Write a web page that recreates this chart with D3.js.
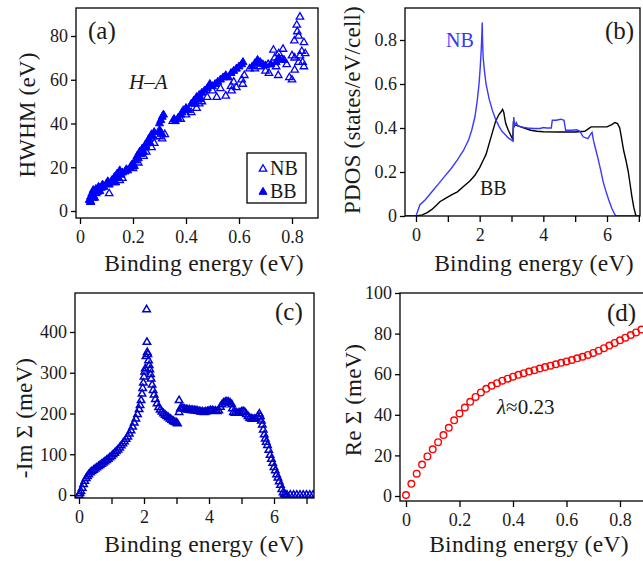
<!DOCTYPE html>
<html><head><meta charset="utf-8">
<script src="https://cdn.jsdelivr.net/npm/d3@7"></script>
<style>
html,body{margin:0;padding:0;background:#fff;}
svg{display:block;font-family:"Liberation Serif","Times New Roman",serif;}
</style></head><body>
<svg id="c" width="643" height="561"></svg>
<script>
// ---------- DATA ----------
// (a) HWHM vs binding energy, H–A direction
const hwhmBB = [[0.035,5],[0.04,6.5],[0.04,4.5],[0.045,8],[0.05,7],[0.05,9.5],[0.055,6],[0.06,10],[0.065,8.5],[0.07,11],[0.075,9],[0.08,10.5],[0.085,12],[0.09,11],[0.1,12.5],[0.105,13.5],[0.11,12],[0.12,14],[0.13,15.5],[0.135,13],[0.14,17],[0.145,15],[0.15,18.5],[0.155,16.5],[0.16,17.5],[0.17,18],[0.175,19],[0.18,18.5],[0.19,20],[0.195,21],[0.2,21.5],[0.205,20.5],[0.21,23],[0.215,25],[0.22,24],[0.225,27],[0.23,26],[0.235,28.5],[0.24,27],[0.245,30],[0.25,29],[0.255,31.5],[0.26,33],[0.265,31],[0.27,35],[0.275,34],[0.28,36],[0.3,40],[0.305,41.5],[0.31,43],[0.315,44],[0.3,37],[0.305,36],[0.31,35],[0.355,42],[0.36,41],[0.37,42.5],[0.38,44],[0.385,45],[0.39,46],[0.4,47],[0.41,46],[0.42,49],[0.43,50.5],[0.435,49],[0.44,52],[0.45,53],[0.455,51],[0.46,54],[0.47,55],[0.48,56],[0.49,58],[0.5,57],[0.51,58],[0.52,59],[0.53,60],[0.54,61],[0.55,62],[0.56,61],[0.57,63],[0.58,64],[0.59,65],[0.6,66],[0.61,67],[0.615,68],[0.65,66],[0.66,67.5],[0.67,69],[0.68,68],[0.69,67],[0.7,66.5],[0.72,67],[0.74,68],[0.75,70],[0.77,69]];
const hwhmNB = [[0.04,4],[0.05,6],[0.06,8],[0.07,10],[0.085,11],[0.11,8],[0.12,13],[0.15,14],[0.16,15],[0.2,19.5],[0.22,22],[0.24,25],[0.25,27],[0.27,29],[0.28,31],[0.3,34],[0.31,33],[0.32,35],[0.35,41],[0.38,42],[0.4,44],[0.42,45],[0.44,47],[0.45,49],[0.46,50],[0.48,52],[0.5,55],[0.516,52],[0.53,56],[0.55,52.6],[0.572,55],[0.57,57],[0.58,59],[0.59,56.5],[0.614,58],[0.61,60],[0.62,62],[0.64,65],[0.66,65],[0.68,66],[0.7,64],[0.713,63],[0.71,67],[0.73,73.6],[0.735,70],[0.748,62],[0.74,66],[0.75,72],[0.766,74],[0.765,69],[0.78,67],[0.79,61],[0.8,60],[0.8,71],[0.81,70],[0.81,64.5],[0.809,77.8],[0.818,85],[0.82,82],[0.825,80],[0.83,88.7],[0.837,73],[0.84,68],[0.845,77],[0.85,72],[0.845,66],[0.825,68],[0.83,71]];

// (b) PDOS
const pdosNB = [[-0.4,0],[0,0],[0.05,0.02],[0.12,0.05],[0.3,0.075],[0.5,0.11],[0.7,0.145],[0.9,0.18],[1.1,0.215],[1.3,0.255],[1.5,0.3],[1.65,0.345],[1.75,0.39],[1.85,0.45],[1.92,0.52],[1.98,0.6],[2.02,0.68],[2.05,0.76],[2.07,0.83],[2.08,0.88],[2.09,0.8],[2.11,0.72],[2.15,0.66],[2.2,0.6],[2.3,0.53],[2.4,0.48],[2.5,0.44],[2.6,0.41],[2.7,0.385],[2.8,0.37],[2.9,0.355],[3.0,0.345],[3.05,0.34],[3.07,0.45],[3.1,0.41],[3.15,0.425],[3.2,0.41],[3.3,0.405],[3.5,0.4],[3.7,0.398],[3.9,0.398],[4.0,0.402],[4.1,0.4],[4.25,0.4],[4.28,0.435],[4.4,0.435],[4.55,0.44],[4.65,0.435],[4.7,0.39],[4.9,0.39],[5.05,0.392],[5.15,0.385],[5.25,0.36],[5.4,0.352],[5.5,0.375],[5.53,0.38],[5.58,0.34],[5.65,0.3],[5.72,0.26],[5.8,0.21],[5.88,0.155],[5.95,0.12],[6.05,0.075],[6.15,0.035],[6.25,0.005],[6.3,0],[7.3,0]];
const pdosBB = [[-0.4,0],[0,0],[0.2,0.005],[0.35,0.015],[0.5,0.03],[0.65,0.05],[0.75,0.065],[0.9,0.078],[1.1,0.095],[1.3,0.11],[1.5,0.135],[1.7,0.16],[1.85,0.185],[2.0,0.22],[2.1,0.25],[2.2,0.28],[2.3,0.33],[2.4,0.38],[2.5,0.43],[2.6,0.46],[2.68,0.475],[2.72,0.485],[2.76,0.47],[2.78,0.45],[2.82,0.42],[2.9,0.39],[3.0,0.36],[3.04,0.35],[3.06,0.43],[3.1,0.415],[3.2,0.41],[3.4,0.4],[3.6,0.39],[3.8,0.385],[4.0,0.383],[4.5,0.382],[5.0,0.382],[5.3,0.385],[5.4,0.395],[5.5,0.405],[5.7,0.405],[6.0,0.405],[6.15,0.415],[6.25,0.425],[6.33,0.42],[6.4,0.4],[6.45,0.36],[6.52,0.3],[6.6,0.25],[6.67,0.2],[6.72,0.15],[6.78,0.09],[6.84,0.04],[6.9,0.005],[6.95,0],[7.3,0]];

// (c) -Im Sigma (meV)
const imSigma = [[0,0],[0.03,4],[0.06,9],[0.1,17],[0.14,26],[0.18,34],[0.22,41],[0.26,46],[0.3,50],[0.35,55],[0.4,58],[0.45,61],[0.5,64],[0.55,67],[0.6,70],[0.65,73],[0.7,76],[0.75,79],[0.8,82],[0.85,85],[0.9,88],[0.95,92],[1.0,95],[1.05,99],[1.1,103],[1.15,107],[1.2,111],[1.25,116],[1.3,121],[1.35,126],[1.4,131],[1.45,137],[1.5,143],[1.55,150],[1.6,158],[1.65,167],[1.7,177],[1.75,187],[1.8,198],[1.85,210],[1.88,220],[1.91,232],[1.94,248],[1.96,262],[1.98,275],[2.0,290],[2.02,302],[2.04,310],[2.06,340],[2.08,455],[2.09,375],[2.1,350],[2.12,345],[2.14,330],[2.16,318],[2.18,308],[2.2,296],[2.22,285],[2.25,270],[2.28,257],[2.31,246],[2.35,235],[2.4,224],[2.45,215],[2.5,209],[2.55,204],[2.6,200],[2.65,196],[2.7,193],[2.75,190],[2.8,187],[2.85,184],[2.9,181],[2.95,179],[3.0,177],[3.03,175],[3.08,232],[3.08,203],[3.12,212],[3.16,213],[3.2,212],[3.25,211],[3.3,210],[3.35,209],[3.4,209],[3.45,208],[3.5,208],[3.55,207],[3.6,207],[3.65,206],[3.7,205],[3.75,204],[3.8,204],[3.85,203],[3.9,204],[3.95,205],[4.0,206],[4.05,207],[4.1,207],[4.15,206],[4.2,206],[4.25,205],[4.3,207],[4.35,216],[4.4,222],[4.45,226],[4.5,228],[4.55,229],[4.6,228],[4.65,226],[4.7,222],[4.72,212],[4.75,203],[4.8,201],[4.85,201],[4.9,201],[4.95,202],[5.0,204],[5.05,205],[5.1,203],[5.15,198],[5.2,193],[5.25,189],[5.3,187],[5.35,186],[5.4,186],[5.45,187],[5.5,192],[5.55,199],[5.58,193],[5.61,182],[5.64,172],[5.67,160],[5.7,148],[5.73,138],[5.76,130],[5.8,122],[5.84,110],[5.88,98],[5.92,88],[5.96,78],[6.0,68],[6.04,60],[6.08,50],[6.12,42],[6.16,33],[6.2,24],[6.24,14],[6.28,6],[6.32,2],[6.36,0],[6.4,0],[6.5,0],[6.6,0],[6.7,0],[6.8,0],[6.9,0],[7.0,0],[7.1,0],[7.2,0]];

// (d) Re Sigma (meV)
const reSigmaX = [0,0.02,0.04,0.06,0.08,0.10,0.12,0.14,0.16,0.18,0.20,0.22,0.24,0.26,0.28,0.30,0.32,0.34,0.36,0.38,0.40,0.42,0.44,0.46,0.48,0.50,0.52,0.54,0.56,0.58,0.60,0.62,0.64,0.66,0.68,0.70,0.72,0.74,0.76,0.78,0.80,0.82,0.84,0.86,0.88];
const reSigmaY = [0.5,6,11,15.5,19.5,23,26.5,30,33.6,37.3,40.7,43.6,46.4,48.8,51,52.8,54.3,55.6,56.8,57.8,58.8,59.7,60.5,61.3,62,62.8,63.5,64.2,64.9,65.6,66.3,67,67.8,68.6,69.5,70.5,71.6,72.8,74.1,75.4,76.7,78,79.3,80.6,82];

// tick values
const ticksAx = [0,0.2,0.4,0.6,0.8];
const ticksAy = [0,20,40,60,80];
const ticksBx = [0,1,2,3,4,5,6,7];
const ticksBy = [0,0.2,0.4,0.6,0.8];
const ticksCx = [0,1,2,3,4,5,6,7];
const ticksCy = [0,100,200,300,400];
const ticksDx = [0,0.2,0.4,0.6,0.8];
const ticksDy = [0,20,40,60,80,100];

// ---------- DRAW ----------
const svg = d3.select("#c");
const TXT = "#1a1a1a";
const FONT = "'Liberation Serif', 'Times New Roman', serif";

function fmtDec(d){ return d === 0 ? "0" : d3.format(".1f")(d); }

function panel(o){
  const x = d3.scaleLinear().domain(o.xd).range(o.xr);
  const y = d3.scaleLinear().domain(o.yd).range(o.yr);
  const g = svg.append("g");
  const f = o.f;
  svg.append("clipPath").attr("id","clip"+o.id)
    .append("rect").attr("x",f.l).attr("y",f.t).attr("width",f.r-f.l).attr("height",f.b-f.t);
  const xa = d3.axisBottom(x).tickValues(o.xt).tickSize(6).tickPadding(6).tickFormat(o.xf);
  const gx = g.append("g").attr("transform",`translate(0,${f.b})`).call(xa);
  const ya = d3.axisLeft(y).tickValues(o.yt).tickSize(5).tickPadding(3).tickFormat(o.yf);
  const gy = g.append("g").attr("transform",`translate(${f.l},0)`).call(ya);
  [gx,gy].forEach(a=>{
    a.attr("font-family",FONT);
    a.select(".domain").remove();
    a.selectAll("line").attr("stroke","#000").attr("stroke-width",1.3);
    a.selectAll("text").attr("font-size",18).attr("fill",TXT);
  });
  const plot = g.append("g").attr("clip-path",`url(#clip${o.id})`);
  g.append("rect").attr("x",f.l).attr("y",f.t).attr("width",f.r-f.l).attr("height",f.b-f.t)
    .attr("fill","none").attr("stroke","#000").attr("stroke-width",1.3);
  // titles
  g.append("text").attr("x",o.xt_pos[0]).attr("y",o.xt_pos[1]).attr("text-anchor","middle")
    .attr("font-size",23.5).attr("letter-spacing",0.3).attr("fill",TXT).text(o.xtitle);
  g.append("text").attr("transform",`translate(${o.yt_pos[0]},${o.yt_pos[1]}) rotate(-90)`)
    .attr("dy","0.35em").attr("text-anchor","middle").attr("font-size",23).attr("letter-spacing",0.2)
    .attr("fill",TXT).text(o.ytitle);
  g.append("text").attr("x",o.lab[0]).attr("y",o.lab[1]).attr("font-size",25).attr("fill",TXT).text(o.label);
  return {x,y,plot,g};
}

const tri = d3.symbol().type(d3.symbolTriangle);

// (a)
const A = panel({id:"a", xd:[0,0.8], xr:[80,292], yd:[0,80], yr:[211,36],
  f:{l:76,r:318,t:8,b:218}, xt:ticksAx, yt:ticksAy, xf:fmtDec, yf:d=>d,
  xtitle:"Binding energy (eV)", xt_pos:[204,271], ytitle:"HWHM (eV)", yt_pos:[27,115],
  label:"(a)", lab:[88,39]});
A.plot.selectAll(".bb").data(hwhmBB).join("path")
  .attr("d",tri.size(28)()).attr("transform",d=>`translate(${A.x(d[0])},${A.y(d[1])})`)
  .attr("fill","#0000ff").attr("stroke","#0000ff").attr("stroke-width",1);
A.plot.selectAll(".nb").data(hwhmNB).join("path")
  .attr("d",tri.size(24)()).attr("transform",d=>`translate(${A.x(d[0])},${A.y(d[1])})`)
  .attr("fill","none").attr("stroke","#0000ff").attr("stroke-width",1.3);
A.g.append("text").attr("x",129).attr("y",89).attr("font-size",21).attr("font-style","italic")
  .attr("fill",TXT).text("H–A");
// legend
A.g.append("rect").attr("x",247).attr("y",153).attr("width",59).attr("height",50)
  .attr("fill","#fff").attr("stroke","#000").attr("stroke-width",1.3);
A.g.append("path").attr("d",tri.size(24)()).attr("transform","translate(263,169)")
  .attr("fill","none").attr("stroke","#0000ff").attr("stroke-width",1.3);
A.g.append("path").attr("d",tri.size(28)()).attr("transform","translate(263,192)")
  .attr("fill","#0000ff").attr("stroke","#0000ff").attr("stroke-width",1);
A.g.append("text").attr("x",270).attr("y",175).attr("font-size",20).attr("fill",TXT).text("NB");
A.g.append("text").attr("x",270).attr("y",198).attr("font-size",20).attr("fill",TXT).text("BB");

// (b)
const B = panel({id:"b", xd:[0,6], xr:[416,607], yd:[0,0.8], yr:[216,40],
  f:{l:405,r:640,t:8,b:216}, xt:ticksBx, yt:ticksBy, xf:d=>d%2===0?d:"", yf:fmtDec,
  xtitle:"Binding energy (eV)", xt_pos:[534,271], ytitle:"PDOS (states/eV/cell)", yt_pos:[352,110],
  label:"(b)", lab:[605,39]});
const lineB = d3.line().x(d=>B.x(d[0])).y(d=>B.y(d[1]));
B.plot.append("path").attr("d",lineB(pdosBB)).attr("fill","none").attr("stroke","#000").attr("stroke-width",1.4);
B.plot.append("path").attr("d",lineB(pdosNB)).attr("fill","none").attr("stroke","#3838ff").attr("stroke-width",1.4);
B.g.append("text").attr("x",446).attr("y",47).attr("font-size",20).attr("fill","#3838ff").text("NB");
B.g.append("text").attr("x",480).attr("y",195).attr("font-size",20).attr("fill",TXT).text("BB");

// (c)
const C = panel({id:"c", xd:[0,6], xr:[79,274], yd:[0,400], yr:[495,332],
  f:{l:75,r:314,t:293,b:498}, xt:ticksCx, yt:ticksCy, xf:d=>d%2===0?d:"", yf:d=>d,
  xtitle:"Binding energy (eV)", xt_pos:[204,552], ytitle:"-Im Σ (meV)", yt_pos:[24,418],
  label:"(c)", lab:[275,320]});
C.plot.selectAll(".im").data(imSigma).join("path")
  .attr("d",tri.size(24)()).attr("transform",d=>`translate(${C.x(d[0])},${C.y(d[1])})`)
  .attr("fill","none").attr("stroke","#0000cc").attr("stroke-width",1.5);

// (d)
const D = panel({id:"d", xd:[0,0.8], xr:[406,620], yd:[0,100], yr:[496,293],
  f:{l:400,r:660,t:293,b:501}, xt:ticksDx, yt:ticksDy, xf:fmtDec, yf:d=>d,
  xtitle:"Binding energy (eV)", xt_pos:[529,552], ytitle:"Re Σ (meV)", yt_pos:[353,400],
  label:"(d)", lab:[607,321]});
D.plot.selectAll(".re").data(reSigmaX).join("circle")
  .attr("cx",d=>D.x(d)).attr("cy",(d,i)=>D.y(reSigmaY[i])).attr("r",3.3)
  .attr("fill","none").attr("stroke","#ff0000").attr("stroke-width",1.4);
const lam = D.g.append("text").attr("x",497).attr("y",414).attr("font-size",21).attr("fill",TXT);
lam.append("tspan").attr("font-style","italic").text("λ");
lam.append("tspan").text("≈0.23");
</script>
</body></html>
